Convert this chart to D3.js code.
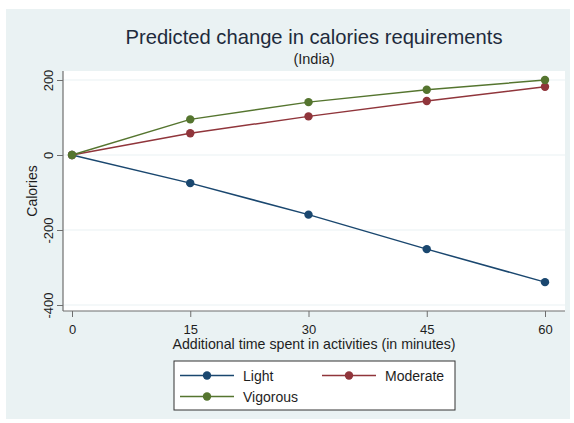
<!DOCTYPE html>
<html>
<head>
<meta charset="utf-8">
<script src="https://cdn.jsdelivr.net/npm/d3@7"></script>
<style>
  body { margin: 0; background: #fff; }
  svg { display: block; font-family: "Liberation Sans", Arial, sans-serif; }
</style>
</head>
<body>
<div class="page"></div>
<script>
var minutes = [0, 15, 30, 45, 60];
var light = [0, -75, -159, -251, -339];
var moderate = [0, 58, 103, 144, 182];
var vigorous = [0, 95, 141, 174, 200];
var yTicks = [200, 0, -200, -400];

var series = [
  {name: 'Light', values: light, color: '#1a476f'},
  {name: 'Moderate', values: moderate, color: '#90353b'},
  {name: 'Vigorous', values: vigorous, color: '#55752f'}
];

var width = 574, height = 423;
var plot_box = {left: 63, right: 565, top: 71, bottom: 311};

var x = d3.scaleLinear().domain([0, 60]).range([72, 545]);
var y = d3.scaleLinear().domain([-400, 200]).range([305, 80]);

var svg = d3.select('.page').append('svg')
  .attr('width', width)
  .attr('height', height);

// outer graph region
svg.append('rect')
  .attr('x', 6).attr('y', 9)
  .attr('width', 564).attr('height', 410)
  .attr('fill', '#eaf2f3');

// plot region
svg.append('rect')
  .attr('x', plot_box.left).attr('y', plot_box.top)
  .attr('width', plot_box.right - plot_box.left)
  .attr('height', plot_box.bottom - plot_box.top)
  .attr('fill', '#ffffff');

// gridlines
svg.selectAll('line.grid').data(yTicks)
  .enter().append('line')
  .attr('class', 'grid')
  .attr('x1', plot_box.left).attr('x2', plot_box.right)
  .attr('y1', function(d) { return y(d); })
  .attr('y2', function(d) { return y(d); })
  .attr('stroke', '#eaf2f3')
  .attr('stroke-width', 1.2);

svg.append('text')
  .text('Predicted change in calories requirements')
  .attr('x', 314).attr('y', 44)
  .attr('text-anchor', 'middle')
  .style('font-size', '20.2px')
  .style('fill', '#1e2b3c');

svg.append('text')
  .text('(India)')
  .attr('x', 314).attr('y', 64)
  .attr('text-anchor', 'middle')
  .style('font-size', '14.5px')
  .style('fill', '#1e1e1e');

// axes
var xAxis = d3.axisBottom(x).tickValues(minutes).tickSize(6).tickPadding(8);
var yAxis = d3.axisLeft(y).tickValues(yTicks).tickSize(6).tickPadding(4)
  .tickFormat(function(d) { return String(d); });

var gx = svg.append('g')
  .attr('transform', 'translate(0,' + plot_box.bottom + ')')
  .call(xAxis);
gx.select('.domain').attr('d', 'M' + plot_box.left + ',0H' + plot_box.right);

var gy = svg.append('g')
  .attr('transform', 'translate(' + plot_box.left + ',0)')
  .call(yAxis);
gy.select('.domain').attr('d', 'M0,' + plot_box.top + 'V' + plot_box.bottom);

svg.selectAll('.domain').attr('stroke', '#6e6e6e').attr('stroke-width', 1.2);
svg.selectAll('.tick line').attr('stroke', '#6e6e6e');
svg.selectAll('.tick text')
  .style('font-size', '13px')
  .style('font-family', '"Liberation Sans", Arial, sans-serif')
  .attr('fill', '#1e1e1e');

gy.selectAll('.tick text')
  .attr('transform', function() {
    return 'rotate(-90,' + d3.select(this).attr('x') + ',0)';
  })
  .attr('text-anchor', 'middle')
  .attr('dy', '0');

svg.append('text')
  .text('Calories')
  .attr('transform', 'translate(37,191) rotate(-90)')
  .attr('text-anchor', 'middle')
  .style('font-size', '14px')
  .style('fill', '#1e1e1e');

svg.append('text')
  .text('Additional time spent in activities (in minutes)')
  .attr('x', 314).attr('y', 349)
  .attr('text-anchor', 'middle')
  .style('font-size', '14.2px')
  .style('fill', '#1e1e1e');

// lines and markers
var line = d3.line()
  .x(function(d, i) { return x(minutes[i]); })
  .y(function(d) { return y(d); });

series.forEach(function(s) {
  svg.append('path')
    .datum(s.values)
    .attr('d', line)
    .attr('fill', 'none')
    .attr('stroke', s.color)
    .attr('stroke-width', 1.5);
  svg.selectAll(null).data(s.values)
    .enter().append('circle')
    .attr('cx', function(d, i) { return x(minutes[i]); })
    .attr('cy', function(d) { return y(d); })
    .attr('r', 4.2)
    .attr('fill', s.color);
});

// legend
var legend = svg.append('g');
legend.append('rect')
  .attr('x', 174).attr('y', 361)
  .attr('width', 281).attr('height', 49)
  .attr('fill', '#ffffff')
  .attr('stroke', '#333')
  .attr('stroke-width', 1);

var legPos = [
  {x: 180, y: 375.5},
  {x: 322, y: 375.5},
  {x: 180, y: 396.5}
];
series.forEach(function(s, i) {
  var p = legPos[i];
  legend.append('line')
    .attr('x1', p.x).attr('x2', p.x + 54)
    .attr('y1', p.y).attr('y2', p.y)
    .attr('stroke', s.color).attr('stroke-width', 1.5);
  legend.append('circle')
    .attr('cx', p.x + 27).attr('cy', p.y)
    .attr('r', 4.2).attr('fill', s.color);
  legend.append('text')
    .text(s.name)
    .attr('x', p.x + 63).attr('y', p.y + 5)
    .style('font-size', '14px')
    .style('fill', '#1e1e1e');
});
</script>
</body>
</html>
